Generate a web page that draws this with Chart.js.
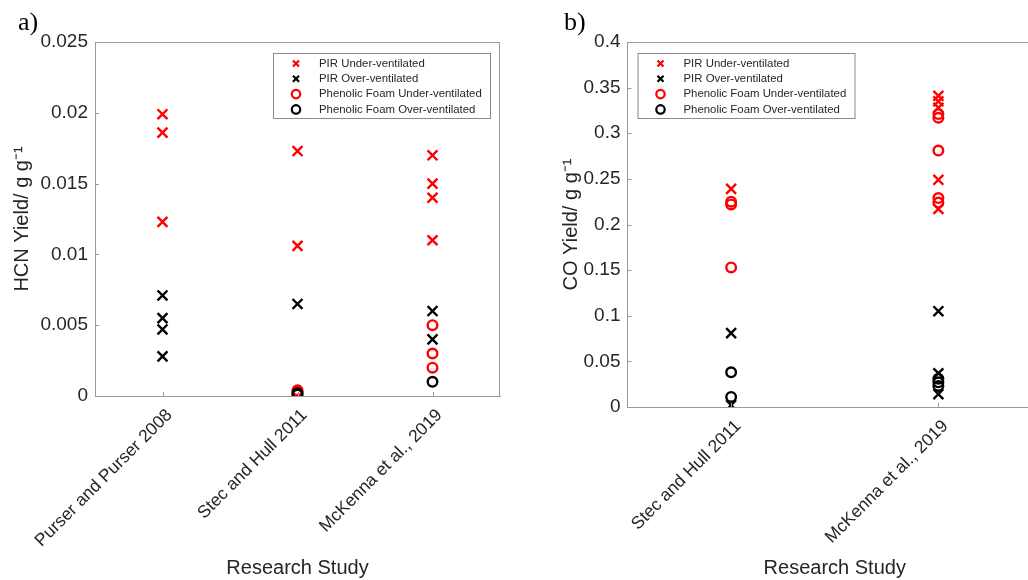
<!DOCTYPE html>
<html>
<head>
<meta charset="utf-8">
<script src="https://cdn.jsdelivr.net/npm/chart.js@4/dist/chart.umd.min.js"></script>
<style>
  html, body { margin: 0; padding: 0; background: #fff; width: 1028px; height: 580px; overflow: hidden; }
  #wrap { position: relative; width: 1028px; height: 580px; overflow: hidden; }
  canvas { position: absolute; top: 0; }
  .lbl { position: absolute; font-family: "Liberation Serif", "DejaVu Serif", serif; font-size: 26px; color: #000; line-height: 1; }
</style>
</head>
<body>
<div id="wrap">
  <canvas id="ca" width="520" height="580" style="left:0px"></canvas>
  <canvas id="cb" width="560" height="580" style="left:520px"></canvas>
  <div class="lbl" style="left:18px; top:9px;">a)</div>
  <div class="lbl" style="left:564px; top:9px;">b)</div>
</div>
<script>
// ---------- Data: panel a (HCN) ----------
const catsA = ['Purser and Purser 2008', 'Stec and Hull 2011', 'McKenna et al., 2019'];
const hcnPirUnder = [[0.0199, 0.0186, 0.0123], [0.0173, 0.0106], [0.017, 0.015, 0.014, 0.011]];
const hcnPirOver  = [[0.0071, 0.0055, 0.0047, 0.0028], [0.0065], [0.006, 0.004]];
const hcnPfUnder  = [[], [0.0004, 0.0003], [0.005, 0.003, 0.002]];
const hcnPfOver   = [[], [0.0001, 0.0002], [0.001]];
const yTicksA = [0, 0.005, 0.01, 0.015, 0.02, 0.025];
const yLabelsA = ['0', '0.005', '0.01', '0.015', '0.02', '0.025'];

// ---------- Data: panel b (CO) ----------
const catsB = ['Stec and Hull 2011', 'McKenna et al., 2019'];
const coPirUnder = [[0.239], [0.341, 0.335, 0.328, 0.249, 0.217]];
const coPirOver  = [[0.081, 0.002], [0.105, 0.037, 0.014]];
const coPfUnder  = [[0.225, 0.222, 0.153], [0.321, 0.317, 0.281, 0.229, 0.224]];
const coPfOver   = [[0.038, 0.011], [0.031, 0.027, 0.023]];
const yTicksB = [0, 0.05, 0.1, 0.15, 0.2, 0.25, 0.3, 0.35, 0.4];
const yLabelsB = ['0', '0.05', '0.1', '0.15', '0.2', '0.25', '0.3', '0.35', '0.4'];

const seriesNames = ['PIR Under-ventilated', 'PIR Over-ventilated', 'Phenolic Foam Under-ventilated', 'Phenolic Foam Over-ventilated'];
const seriesColors = ['#ff0000', '#000000', '#ff0000', '#000000'];
const seriesShapes = ['crossRot', 'crossRot', 'circle', 'circle'];

const TXT = '#262626';
const AXC = '#9a9a9a';
const FONT = '"Liberation Sans", Arial, sans-serif';

function toPoints(cats, vals) {
  const pts = [];
  vals.forEach((arr, i) => arr.forEach(v => pts.push({ x: cats[i], y: v })));
  return pts;
}

function buildDatasets(cats, groups) {
  return groups.map((g, i) => ({
    label: seriesNames[i],
    data: toPoints(cats, g),
    pointStyle: seriesShapes[i],
    borderColor: seriesColors[i],
    backgroundColor: 'rgba(0,0,0,0)',
    pointRadius: seriesShapes[i] === 'crossRot' ? 7 : 4.8,
    pointBorderWidth: 2.4,
    pointHoverRadius: seriesShapes[i] === 'crossRot' ? 7 : 4.8,
    showLine: false,
    order: 4 - i
  }));
}

const frame = {
  id: 'frame',
  afterDraw(chart, args, opts) {
    const { ctx, chartArea: ca } = chart;
    const xs = chart.scales.x, ys = chart.scales.y;
    ctx.save();
    ctx.strokeStyle = AXC;
    ctx.lineWidth = 1;
    ctx.beginPath();
    ctx.moveTo(ca.left, ca.top + 0.5); ctx.lineTo(ca.right, ca.top + 0.5);
    ctx.moveTo(ca.right - 0.5, ca.top); ctx.lineTo(ca.right - 0.5, ca.bottom);
    ys.ticks.forEach((t, i) => {
      const p = Math.round(ys.getPixelForTick(i)) + 0.5;
      ctx.moveTo(ca.left, p); ctx.lineTo(ca.left + 4, p);
    });
    xs.ticks.forEach((t, i) => {
      const p = Math.round(xs.getPixelForTick(i)) + 0.5;
      ctx.moveTo(p, ca.bottom); ctx.lineTo(p, ca.bottom - 4);
    });
    ctx.stroke();

    // legend box
    const x0 = ca.left + opts.dx, y0 = ca.top + 11, w = 217, h = 65;
    ctx.fillStyle = '#fff';
    ctx.fillRect(x0, y0, w, h);
    ctx.strokeStyle = '#8a8a8a';
    ctx.strokeRect(x0 + 0.5, y0 + 0.5, w, h);
    chart.data.datasets.forEach((ds, i) => {
      const cy = y0 + 10.5 + i * 15.3;
      const mx = x0 + 23;
      ctx.strokeStyle = ds.borderColor;
      ctx.lineWidth = 2.2;
      ctx.beginPath();
      if (ds.pointStyle === 'crossRot') {
        ctx.moveTo(mx - 3, cy - 3); ctx.lineTo(mx + 3, cy + 3);
        ctx.moveTo(mx + 3, cy - 3); ctx.lineTo(mx - 3, cy + 3);
      } else {
        ctx.arc(mx, cy, 4.2, 0, Math.PI * 2);
      }
      ctx.stroke();
      ctx.fillStyle = TXT;
      ctx.font = '11.4px ' + FONT;
      ctx.textBaseline = 'middle';
      ctx.textAlign = 'left';
      ctx.fillText(ds.label, x0 + 46, cy);
    });
    ctx.restore();
  }
};

function makeChart(id, cats, groups, yTicks, yLabels, yTitle, cfg) {
  return new Chart(document.getElementById(id), {
    type: 'scatter',
    data: { labels: cats, datasets: buildDatasets(cats, groups) },
    options: {
      responsive: false,
      animation: false,
      devicePixelRatio: 1,
      layout: { padding: { left: 0, right: cfg.padRight, top: 42, bottom: 0 } },
      plugins: {
        legend: { display: false },
        tooltip: { enabled: false },
        frame: { dx: cfg.legendDx }
      },
      scales: {
        x: {
          type: 'category',
          labels: cats,
          offset: true,
          grid: { display: false, drawTicks: false },
          border: { display: true, color: AXC, width: 1 },
          ticks: {
            autoSkip: false,
            minRotation: 45, maxRotation: 45,
            color: TXT,
            font: { family: FONT, size: 17.5 },
            padding: 9,
            labelOffset: 7
          },
          title: {
            display: true, text: 'Research Study', color: TXT,
            font: { family: FONT, size: 20 },
            padding: { top: 0, bottom: 0 }
          },
          afterFit(s) { s.height = cfg.xHeight; }
        },
        y: {
          type: 'linear',
          min: yTicks[0], max: yTicks[yTicks.length - 1],
          afterBuildTicks(s) { s.ticks = yTicks.map(v => ({ value: v })); },
          grid: { display: false, drawTicks: false },
          border: { display: true, color: AXC, width: 1 },
          ticks: {
            color: TXT,
            font: { family: FONT, size: 19 },
            padding: 7,
            callback: (v, i) => yLabels[i]
          },
          title: {
            display: true, text: yTitle, color: TXT,
            font: { family: FONT, size: 20 },
            padding: { top: cfg.yTitlePad, bottom: 0 }
          },
          afterFit(s) { s.width = cfg.yWidth; }
        }
      }
    },
    plugins: [frame]
  });
}

makeChart('ca', catsA, [hcnPirUnder, hcnPirOver, hcnPfUnder, hcnPfOver], yTicksA, yLabelsA,
  'HCN Yield/ g g\u207B\u00B9',
  { padRight: 20, xHeight: 184, yWidth: 95, yTitlePad: 10, legendDx: 178 });

makeChart('cb', catsB, [coPirUnder, coPirOver, coPfUnder, coPfOver], yTicksB, yLabelsB,
  'CO Yield/ g g\u207B\u00B9',
  { padRight: 38, xHeight: 173, yWidth: 107.5, yTitlePad: 39, legendDx: 10 });
</script>
</body>
</html>
